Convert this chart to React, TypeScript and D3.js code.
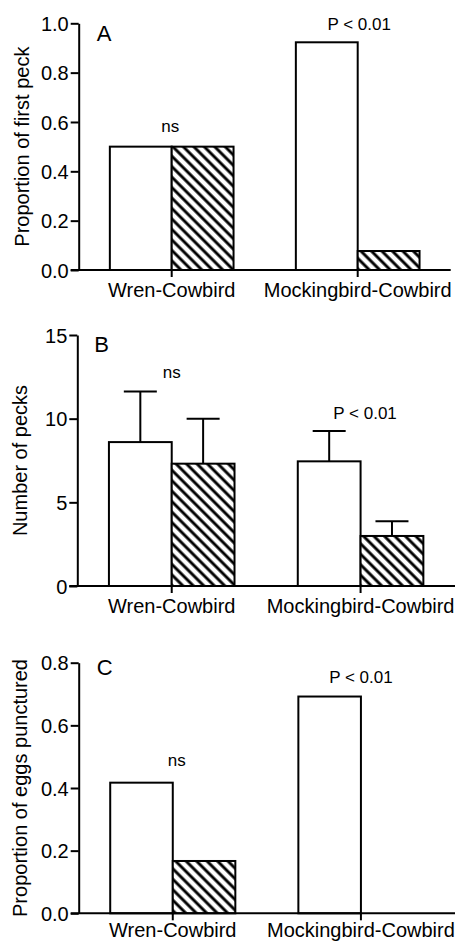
import { useEffect, useRef } from "react";
import * as d3 from "d3";

// groups on the x axis and the two bars in each group (open = host, hatched = cowbird)
const groups = ["Wren-Cowbird", "Mockingbird-Cowbird"];
const series = ["host", "cowbird"];

// A: proportion of first peck
const firstPeck = [
  [0.5, 0.5],
  [0.923, 0.077],
];
// B: number of pecks, mean and error
const pecksMean = [
  [8.6, 7.31],
  [7.45, 2.99],
];
const pecksErr = [
  [3.03, 2.69],
  [1.81, 0.88],
];
// C: proportion of eggs punctured
const punctured = [
  [0.417, 0.167],
  [0.692, 0],
];

const ticksA = [0, 0.2, 0.4, 0.6, 0.8, 1.0];
const ticksB = [0, 5, 10, 15];
const ticksC = [0, 0.2, 0.4, 0.6, 0.8];
const notes = ["ns", "P < 0.01"];

const FONT = "'Liberation Sans', Arial, Helvetica, sans-serif";

const panels = [
  {
    letter: "A", title: "Proportion of first peck", values: firstPeck, errs: null,
    domain: [0, 1], ticks: ticksA, fmt: ".1f",
    left: 78.7, right: 450.7, y0: 270, yTop: 23.3, titleX: 29, labelY: 27,
    letterPos: [96.7, 40.7],
    notePos: [[-1.5, 131.7], [1.5, 30]],
  },
  {
    letter: "B", title: "Number of pecks", values: pecksMean, errs: pecksErr,
    domain: [0, 15], ticks: ticksB, fmt: "d",
    left: 77.3, right: 455, y0: 586, yTop: 335, titleX: 27, labelY: 27,
    letterPos: [94.3, 352.3],
    notePos: [[0, 378.3], [4.5, 419.3]],
  },
  {
    letter: "C", title: "Proportion of eggs punctured", values: punctured, errs: null,
    domain: [0, 0.8], ticks: ticksC, fmt: ".1f",
    left: 78.7, right: 455, y0: 913.3, yTop: 662.7, titleX: 27, labelY: 24,
    letterPos: [96.7, 675],
    notePos: [[4, 766], [0, 682.7]],
  },
];

export default function App() {
  const svgRef = useRef<SVGSVGElement>(null);

  useEffect(() => {
    const svg = d3.select(svgRef.current);
    svg.selectAll("*").remove();

    const defs = svg.append("defs");
    const pat = defs
      .append("pattern")
      .attr("id", "hatch")
      .attr("patternUnits", "userSpaceOnUse")
      .attr("width", 7.4)
      .attr("height", 7.4)
      .attr("patternTransform", "rotate(-45)");
    pat.append("rect").attr("width", 7.4).attr("height", 7.4).attr("fill", "#fff");
    pat
      .append("line")
      .attr("x1", 3.7).attr("x2", 3.7)
      .attr("y1", -1).attr("y2", 8.4)
      .attr("stroke", "#000")
      .attr("stroke-width", 2.9);

    panels.forEach((p) => {
      const g = svg.append("g");

      const x0 = d3
        .scaleBand()
        .domain(groups)
        .range([p.left, p.right])
        .paddingInner(0.335)
        .paddingOuter(0.335 / 2);
      const x1 = d3.scaleBand().domain(series).range([0, x0.bandwidth()]);
      const y = d3.scaleLinear().domain(p.domain).range([p.y0, p.yTop]);

      // bars
      groups.forEach((grp, gi) => {
        series.forEach((s, si) => {
          const v = p.values[gi][si];
          const bx = (x0(grp) ?? 0) + (x1(s) ?? 0);
          if (p.errs) {
            const cx = bx + x1.bandwidth() / 2;
            const top = y(v + p.errs[gi][si]);
            g.append("line")
              .attr("x1", cx).attr("x2", cx)
              .attr("y1", y(v)).attr("y2", top)
              .attr("stroke", "#000").attr("stroke-width", 2);
            g.append("line")
              .attr("x1", cx - 16.5).attr("x2", cx + 16.5)
              .attr("y1", top).attr("y2", top)
              .attr("stroke", "#000").attr("stroke-width", 2);
          }
          if (v > 0) {
            g.append("rect")
              .attr("x", bx)
              .attr("y", y(v))
              .attr("width", x1.bandwidth())
              .attr("height", y(0) - y(v))
              .attr("fill", si === 0 ? "#fff" : "url(#hatch)")
              .attr("stroke", "#000")
              .attr("stroke-width", 2);
          }
        });
      });

      // y axis
      const yAxis = g
        .append("g")
        .attr("transform", `translate(${p.left},0)`)
        .call(
          d3
            .axisLeft(y)
            .tickValues(p.ticks)
            .tickFormat(d3.format(p.fmt) as any)
            .tickSize(8)
            .tickSizeOuter(0)
            .tickPadding(2)
        );
      yAxis.selectAll("path, line").attr("stroke", "#000").attr("stroke-width", 2);
      yAxis
        .selectAll("text")
        .attr("font-family", FONT)
        .attr("font-size", 20)
        .attr("fill", "#000")
        .attr("dy", "0.36em");

      // x axis
      const xAxis = g
        .append("g")
        .attr("transform", `translate(0,${p.y0})`)
        .call(d3.axisBottom(x0).tickSize(7).tickSizeOuter(0));
      xAxis.selectAll("path, line").attr("stroke", "#000").attr("stroke-width", 2);
      xAxis
        .selectAll("text")
        .attr("font-family", FONT)
        .attr("font-size", 20)
        .attr("fill", "#000")
        .attr("y", p.labelY)
        .attr("dy", 0);
      xAxis.select(".domain").attr("d", `M${p.left - 8},0H${p.right}`);

      // axis title
      g.append("text")
        .attr("transform", `translate(${p.titleX},${(p.y0 + p.yTop) / 2}) rotate(-90)`)
        .attr("text-anchor", "middle")
        .attr("font-family", FONT)
        .attr("font-size", 20)
        .text(p.title);

      // panel letter
      g.append("text")
        .attr("x", p.letterPos[0])
        .attr("y", p.letterPos[1])
        .attr("font-family", FONT)
        .attr("font-size", 22)
        .text(p.letter);

      // significance notes
      groups.forEach((grp, gi) => {
        g.append("text")
          .attr("x", (x0(grp) ?? 0) + x0.bandwidth() / 2 + p.notePos[gi][0])
          .attr("y", p.notePos[gi][1])
          .attr("text-anchor", "middle")
          .attr("font-family", FONT)
          .attr("font-size", 17)
          .text(notes[gi]);
      });
    });

    return () => {
      svg.selectAll("*").remove();
    };
  }, []);

  return (
    <div style={{ position: "absolute", left: 0, top: 0 }}>
      <svg ref={svgRef} width={461} height={942} style={{ display: "block", background: "#fff" }} />
    </div>
  );
}
